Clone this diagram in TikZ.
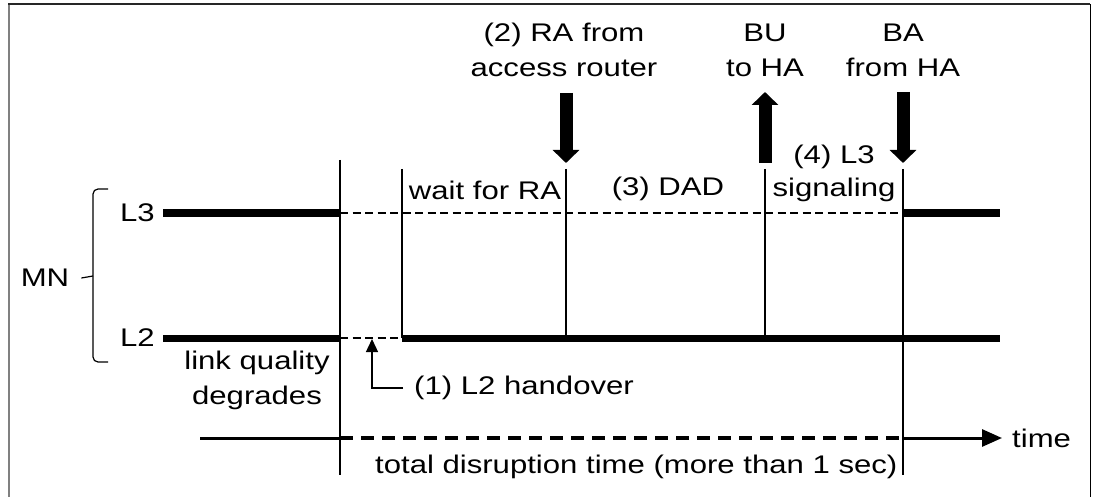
\documentclass[tikz,border=0pt]{standalone}
\usepackage{fontspec}
\setmainfont{Liberation Sans}[FakeStretch=1.22]
\usetikzlibrary{arrows.meta,positioning}

\begin{document}
\begin{tikzpicture}[x=1pt, y=-1pt, font=\fontsize{25.5}{35}\selectfont,
  lbl/.style={inner sep=0pt, align=center},
  layer/.style={line width=7pt},
  tick/.style={line width=1.3pt},
  gap/.style={line width=1.2pt, dash pattern=on 8pt off 4.5pt},
  fat/.style={line width=13pt, -{Triangle[length=13pt,width=26pt]}},
  axis/.style={line width=3pt}]
\useasboundingbox (0,0) rectangle (1097,497);
% frame (open at the bottom)
\draw[black!50, line width=2.5pt] (9,497) -- (9,4);
\draw[black!85, line width=1.5pt] (8,4) -- (1090,4);
\draw[line width=1pt] (1090,4) -- (1090,497);

% levels and event times
\coordinate (L3y) at (0,213);
\coordinate (L2y) at (0,338);
\coordinate (Ty)  at (0,438);
\coordinate (top) at (0,169);
\coordinate (bot) at (0,475);
\coordinate (t0) at (163,0);
\coordinate (t1) at (340,0);
\coordinate (t2) at (402,0);
\coordinate (t3) at (566,0);
\coordinate (t4) at (765,0);
\coordinate (t5) at (903,0);
\coordinate (tEnd) at (1000,0);

% labels
\node[lbl] (mn) at (45,278) {MN};
\node[lbl, anchor=east] (l3) at (155,213) {L3};
\node[lbl, anchor=east] (l2) at (155,338) {L2};
\node[lbl] (degrade) at (257,380) {link quality\\degrades};
\node[lbl, anchor=west] (ho) at (414,388) {(1) L2 handover};
\node[lbl] (ra)   at (564,50) {(2) RA from\\access router};
\node[lbl] (bu)   at (765,50) {BU\\to HA};
\node[lbl] (ba)   at (903,50) {BA\\from HA};
\node[lbl] (wait) at (485,190) {wait for RA};
\node[lbl] (dad)  at (668,189) {(3) DAD};
\node[lbl] (sig)  at (834,173) {(4) L3\\[-2pt]signaling};
\node[lbl, anchor=west] (total) at (375,467) {total disruption time (more than 1 sec)};
\node[lbl, anchor=west] (time) at (1012,438) {time};

% MN brace
\draw[line width=1.2pt, rounded corners=5pt] (108,189) -- (93,189) -- (93,362) -- (108,362);
\draw[line width=1.2pt] ([xshift=12pt]mn.east) -- (93,276);

% layer states
\draw[layer] (t0 |- L3y) -- (t1 |- L3y);
\draw[layer] (t0 |- L2y) -- (t1 |- L2y);
\draw[gap] (t1 |- L3y) -- (t5 |- L3y);
\draw[gap] (t1 |- L2y) -- (t2 |- L2y);
\draw[layer] (t2 |- L2y) -- (tEnd |- L2y);
\draw[layer] (t5 |- L3y) -- (tEnd |- L3y);

% event markers
\draw[tick] (340,160) -- (t1 |- bot);
\foreach \t in {t2,t3,t4}
  \draw[tick] (\t |- top) -- (\t |- L2y);
\draw[tick] (t5 |- top) -- (t5 |- bot);

% messages
\draw[fat] (566,93) -- (566,163);
\draw[fat] (765,163) -- (765,92);
\draw[fat] (903,92) -- (903,163);
\draw[line width=1.3pt, -{Triangle[length=13pt,width=12pt]}]
  ([xshift=-11pt]ho.west) -| (372,339);

% time axis
\draw[axis] (200,438) -- (t1 |- Ty);
\draw[line width=4pt, dash pattern=on 13pt off 8pt] (t1 |- Ty) -- (t5 |- Ty);
\draw[axis, -{Triangle[length=20pt,width=17pt]}] (t5 |- Ty) -- ([xshift=-10pt]time.west);
\end{tikzpicture}
\end{document}
